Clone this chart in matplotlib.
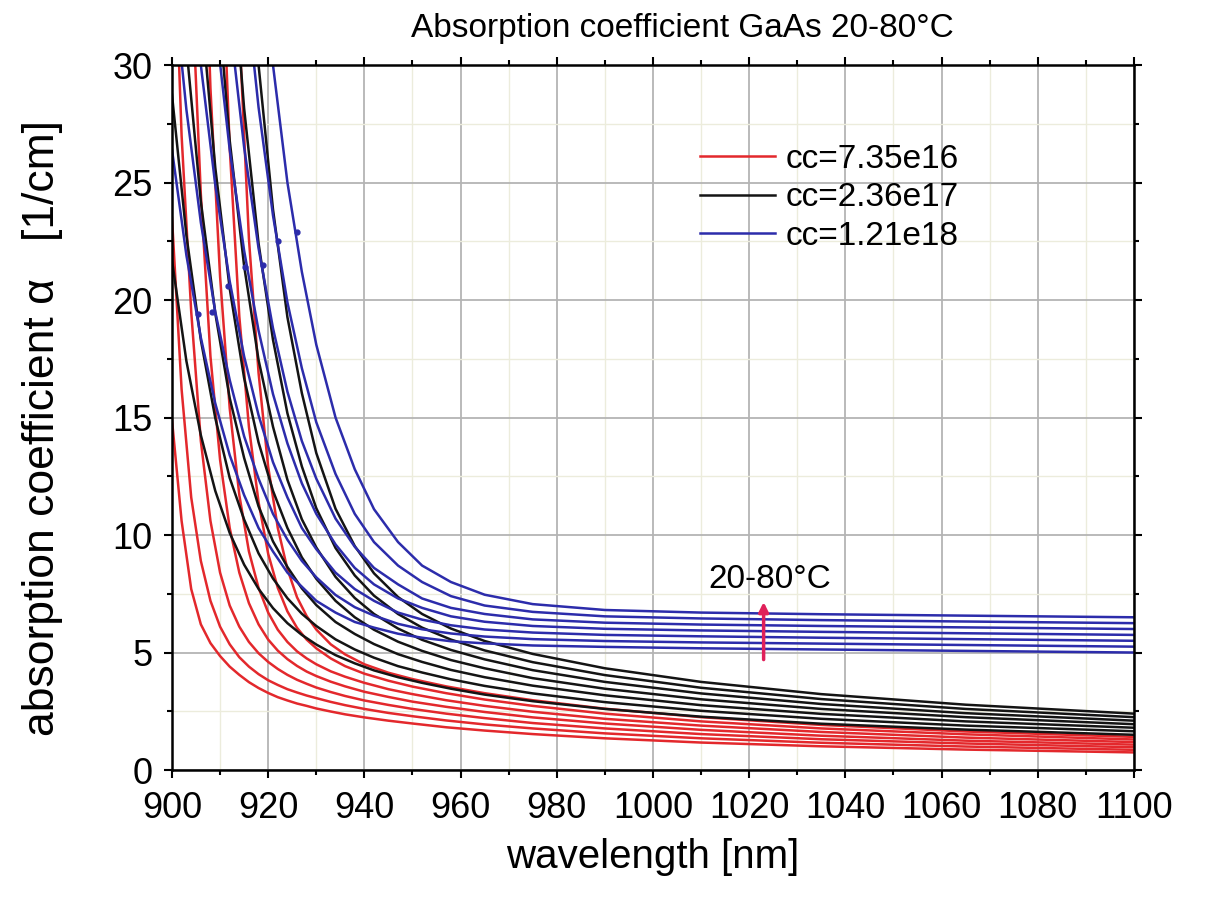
import numpy as np
import matplotlib
matplotlib.use("Agg")
import matplotlib.pyplot as plt
from matplotlib.ticker import MultipleLocator

nan = np.nan

# ---- wavelength grids [nm] ----
wl_bk = [900, 903, 906, 909, 912, 915, 918, 921, 924, 927, 930, 934, 938, 942,
         947, 952, 958, 965, 975, 990, 1010, 1035, 1065, 1100]
wl_red = [900, 902, 904, 906, 908, 910, 912, 914, 916, 918, 920, 922, 924, 926,
          928, 930, 933, 936, 940, 945, 950, 957, 965, 975, 990, 1010, 1035,
          1065, 1100]

# ---- cc=7.35e16 (red), 20..80 C ----
red_20 = [14.9, 10.6, 7.7, 6.2, 5.4, 4.85, 4.4, 4.05, 3.74, 3.49, 3.28, 3.1, 2.96, 2.83,
          2.73, 2.62, 2.49, 2.37, 2.24, 2.1, 1.98, 1.82, 1.68, 1.53, 1.35, 1.17, 1.01, 0.87, 0.75]
red_30 = [23.5, 16.2, 11.6, 8.9, 7.2, 6.1, 5.35, 4.8, 4.4, 4.08, 3.82, 3.62, 3.44, 3.3,
          3.17, 3.06, 2.9, 2.76, 2.6, 2.43, 2.29, 2.11, 1.94, 1.77, 1.56, 1.35, 1.16, 1.0, 0.86]
red_40 = [38.6, 27.0, 19.5, 14.0, 10.6, 8.4, 7.0, 6.1, 5.45, 4.97, 4.6, 4.3, 4.05, 3.84,
          3.67, 3.51, 3.32, 3.15, 2.96, 2.77, 2.6, 2.4, 2.21, 2.0, 1.77, 1.53, 1.31, 1.13, 0.97]
red_50 = [nan, 48.0, 34.0, 24.5, 17.6, 13.2, 10.3, 8.4, 7.1, 6.2, 5.55, 5.08, 4.72, 4.43,
          4.19, 4.0, 3.76, 3.56, 3.33, 3.11, 2.91, 2.69, 2.47, 2.24, 1.98, 1.71, 1.46, 1.25, 1.08]
red_60 = [nan, nan, nan, 41.0, 29.0, 21.0, 15.4, 11.7, 9.3, 7.75, 6.7, 5.97, 5.45, 5.05,
          4.75, 4.5, 4.2, 3.97, 3.71, 3.44, 3.23, 2.97, 2.73, 2.48, 2.18, 1.89, 1.62, 1.38, 1.19]
red_70 = [nan, nan, nan, nan, nan, 37.0, 26.5, 19.3, 14.6, 11.4, 9.2, 7.75, 6.75, 6.05,
          5.55, 5.18, 4.75, 4.42, 4.1, 3.8, 3.55, 3.27, 3.0, 2.73, 2.4, 2.07, 1.77, 1.52, 1.3]
red_80 = [nan, nan, nan, nan, nan, nan, 44.0, 31.5, 22.6, 16.9, 12.9, 10.3, 8.55, 7.35,
          6.55, 5.98, 5.35, 4.92, 4.5, 4.14, 3.87, 3.56, 3.27, 2.97, 2.61, 2.25, 1.92, 1.64, 1.41]

# ---- cc=2.36e17 (black) ----
blk_20 = [21.7, 17.4, 14.25, 11.88, 10.09, 8.74, 7.71, 6.89, 6.25, 5.75, 5.34, 4.89, 4.54, 4.24,
          3.95, 3.71, 3.46, 3.21, 2.93, 2.6, 2.27, 1.97, 1.72, 1.5]
blk_30 = [28.74, 22.75, 18.3, 14.98, 12.43, 10.66, 9.22, 8.15, 7.31, 6.65, 6.13, 5.56, 5.13, 4.78,
          4.42, 4.15, 3.86, 3.58, 3.26, 2.89, 2.52, 2.18, 1.89, 1.65]
blk_40 = [39.75, 30.77, 24.19, 19.44, 15.83, 13.28, 11.22, 9.73, 8.64, 7.73, 7.02, 6.3, 5.79, 5.36,
          4.93, 4.6, 4.26, 3.95, 3.59, 3.18, 2.76, 2.39, 2.07, 1.8]
blk_50 = [nan, 42.09, 32.62, 25.64, 20.49, 16.68, 13.94, 11.88, 10.3, 9.05, 8.14, 7.2, 6.5, 5.97,
          5.46, 5.07, 4.68, 4.33, 3.91, 3.46, 3.01, 2.6, 2.25, 1.95]
blk_60 = [nan, nan, 44.34, 34.17, 26.79, 21.45, 17.45, 14.61, 12.35, 10.67, 9.47, 8.22, 7.32, 6.64,
          6.02, 5.54, 5.11, 4.71, 4.25, 3.75, 3.26, 2.81, 2.42, 2.1]
blk_70 = [nan, nan, nan, 46.59, 35.92, 28.15, 22.41, 18.31, 15.18, 12.92, 11.14, 9.45, 8.28, 7.42,
          6.64, 6.06, 5.55, 5.09, 4.59, 4.04, 3.5, 3.02, 2.6, 2.25]
blk_80 = [nan, nan, nan, nan, 50.12, 38.46, 30.0, 23.86, 19.27, 16.04, 13.49, 11.12, 9.53, 8.37,
          7.36, 6.64, 6.02, 5.49, 4.94, 4.33, 3.75, 3.23, 2.78, 2.4]

# ---- cc=1.21e18 (blue) ----
blu_20 = [26.4, 21.9, 18.4, 15.6, 13.4, 11.7, 10.3, 9.3, 8.4, 7.8, 7.2, 6.7, 6.3, 6.06,
          5.8, 5.63, 5.48, 5.39, 5.30, 5.24, 5.18, 5.13, 5.07, 5.0]
blu_30 = [34.2, 28.1, 23.3, 19.5, 16.6, 14.2, 12.4, 10.9, 9.8, 8.9, 8.2, 7.45, 6.93, 6.57,
          6.22, 5.99, 5.81, 5.68, 5.57, 5.49, 5.43, 5.38, 5.32, 5.25]
blu_40 = [44.8, 36.5, 30.0, 24.9, 20.8, 17.6, 15.1, 13.1, 11.6, 10.3, 9.4, 8.4, 7.7, 7.2,
          6.7, 6.4, 6.16, 5.98, 5.85, 5.75, 5.69, 5.63, 5.57, 5.5]
blu_50 = [nan, 47.9, 38.9, 31.9, 26.4, 22.1, 18.7, 16.0, 13.9, 12.2, 10.9, 9.6, 8.6, 7.9,
          7.3, 6.9, 6.54, 6.31, 6.13, 6.01, 5.94, 5.88, 5.82, 5.75]
blu_60 = [nan, nan, 47.7, 38.9, 31.9, 26.5, 22.2, 18.8, 16.1, 14.0, 12.4, 10.7, 9.5, 8.6,
          7.9, 7.3, 6.9, 6.64, 6.41, 6.27, 6.19, 6.13, 6.07, 6.0]
blu_70 = [nan, nan, nan, 50.9, 41.5, 34.0, 28.2, 23.6, 19.9, 17.1, 14.8, 12.6, 10.9, 9.7,
          8.7, 8.0, 7.4, 7.0, 6.73, 6.54, 6.45, 6.38, 6.32, 6.25]
blu_80 = [nan, nan, nan, nan, 54.3, 44.2, 36.2, 30.0, 25.0, 21.2, 18.1, 15.0, 12.8, 11.1,
          9.7, 8.7, 8.0, 7.46, 7.06, 6.81, 6.70, 6.63, 6.57, 6.5]

# small kinks visible on the blue curves
kink_wl = [905.5, 908.3, 911.7, 915.2, 919.0, 922.1, 925.9]
kink_alpha = [19.4, 19.5, 20.6, 21.4, 21.5, 22.5, 22.9]

red_curves = [red_20, red_30, red_40, red_50, red_60, red_70, red_80]
blk_curves = [blk_20, blk_30, blk_40, blk_50, blk_60, blk_70, blk_80]
blu_curves = [blu_20, blu_30, blu_40, blu_50, blu_60, blu_70, blu_80]
labels = ['cc=7.35e16', 'cc=2.36e17', 'cc=1.21e18']

RED = '#e3282c'
BLK = '#141414'
BLU = '#2c2cab'
LW = 1.8

plt.rcParams['font.family'] = ['Liberation Sans', 'DejaVu Sans']

fig = plt.figure(figsize=(12.06, 8.98), dpi=100)
ax = fig.add_axes([0.1426, 0.1425, 0.7977, 0.7851])

for c in red_curves:
    ax.plot(wl_red, c, color=RED, lw=LW)
for c in blk_curves:
    ax.plot(wl_bk, c, color=BLK, lw=LW)
for c in blu_curves:
    ax.plot(wl_bk, c, color=BLU, lw=LW)
ax.plot(kink_wl, kink_alpha, ls='none', marker='o', ms=3.5, color=BLU)

# legend proxies
h = [plt.Line2D([], [], color=RED, lw=LW),
     plt.Line2D([], [], color=BLK, lw=LW),
     plt.Line2D([], [], color=BLU, lw=LW)]
ax.legend(h, labels, loc='upper left', bbox_to_anchor=(0.549, 0.888),
          frameon=False, fontsize=24, handlelength=2.25, handletextpad=0.3,
          labelspacing=0.22, borderpad=0, borderaxespad=0)

# temperature arrow
ax.annotate('', xy=(1023, 7.15), xytext=(1023, 4.7),
            arrowprops=dict(arrowstyle='-|>', color='#e0205a', lw=2.5,
                            mutation_scale=14, shrinkA=0, shrinkB=0))
ax.text(1024.3, 8.1, '20-80°C', ha='center', va='center', fontsize=24)

ax.set_xlim(900, 1100)
ax.set_ylim(0, 30)
ax.xaxis.set_major_locator(MultipleLocator(20))
ax.xaxis.set_minor_locator(MultipleLocator(10))
ax.yaxis.set_major_locator(MultipleLocator(5))
ax.yaxis.set_minor_locator(MultipleLocator(2.5))
ax.grid(True, which='major', color='#b4b4b4', lw=1.3)
ax.grid(True, which='minor', color='#ececdc', lw=1.0)
ax.set_axisbelow(True)
ax.tick_params(which='both', direction='out', top=True, right=True, width=1.5,
               labelsize=26)
ax.tick_params(which='major', length=6)
ax.tick_params(which='minor', length=3.5)
ax.tick_params(axis='x', pad=9)
ax.tick_params(axis='y', pad=8)
for s in ax.spines.values():
    s.set_linewidth(1.8)

ax.set_xlabel('wavelength [nm]', fontsize=29)
ax.set_ylabel('absorption coefficient α   [1/cm]', fontsize=32)
ax.xaxis.set_label_coords(0.5, -0.097)
ax.yaxis.set_label_coords(-0.113, 0.485)

fig.text(0.566, 0.968, 'Absorption coefficient GaAs 20-80°C', ha='center',
         va='center', fontsize=24)

fig.savefig('out.png', dpi=100)
